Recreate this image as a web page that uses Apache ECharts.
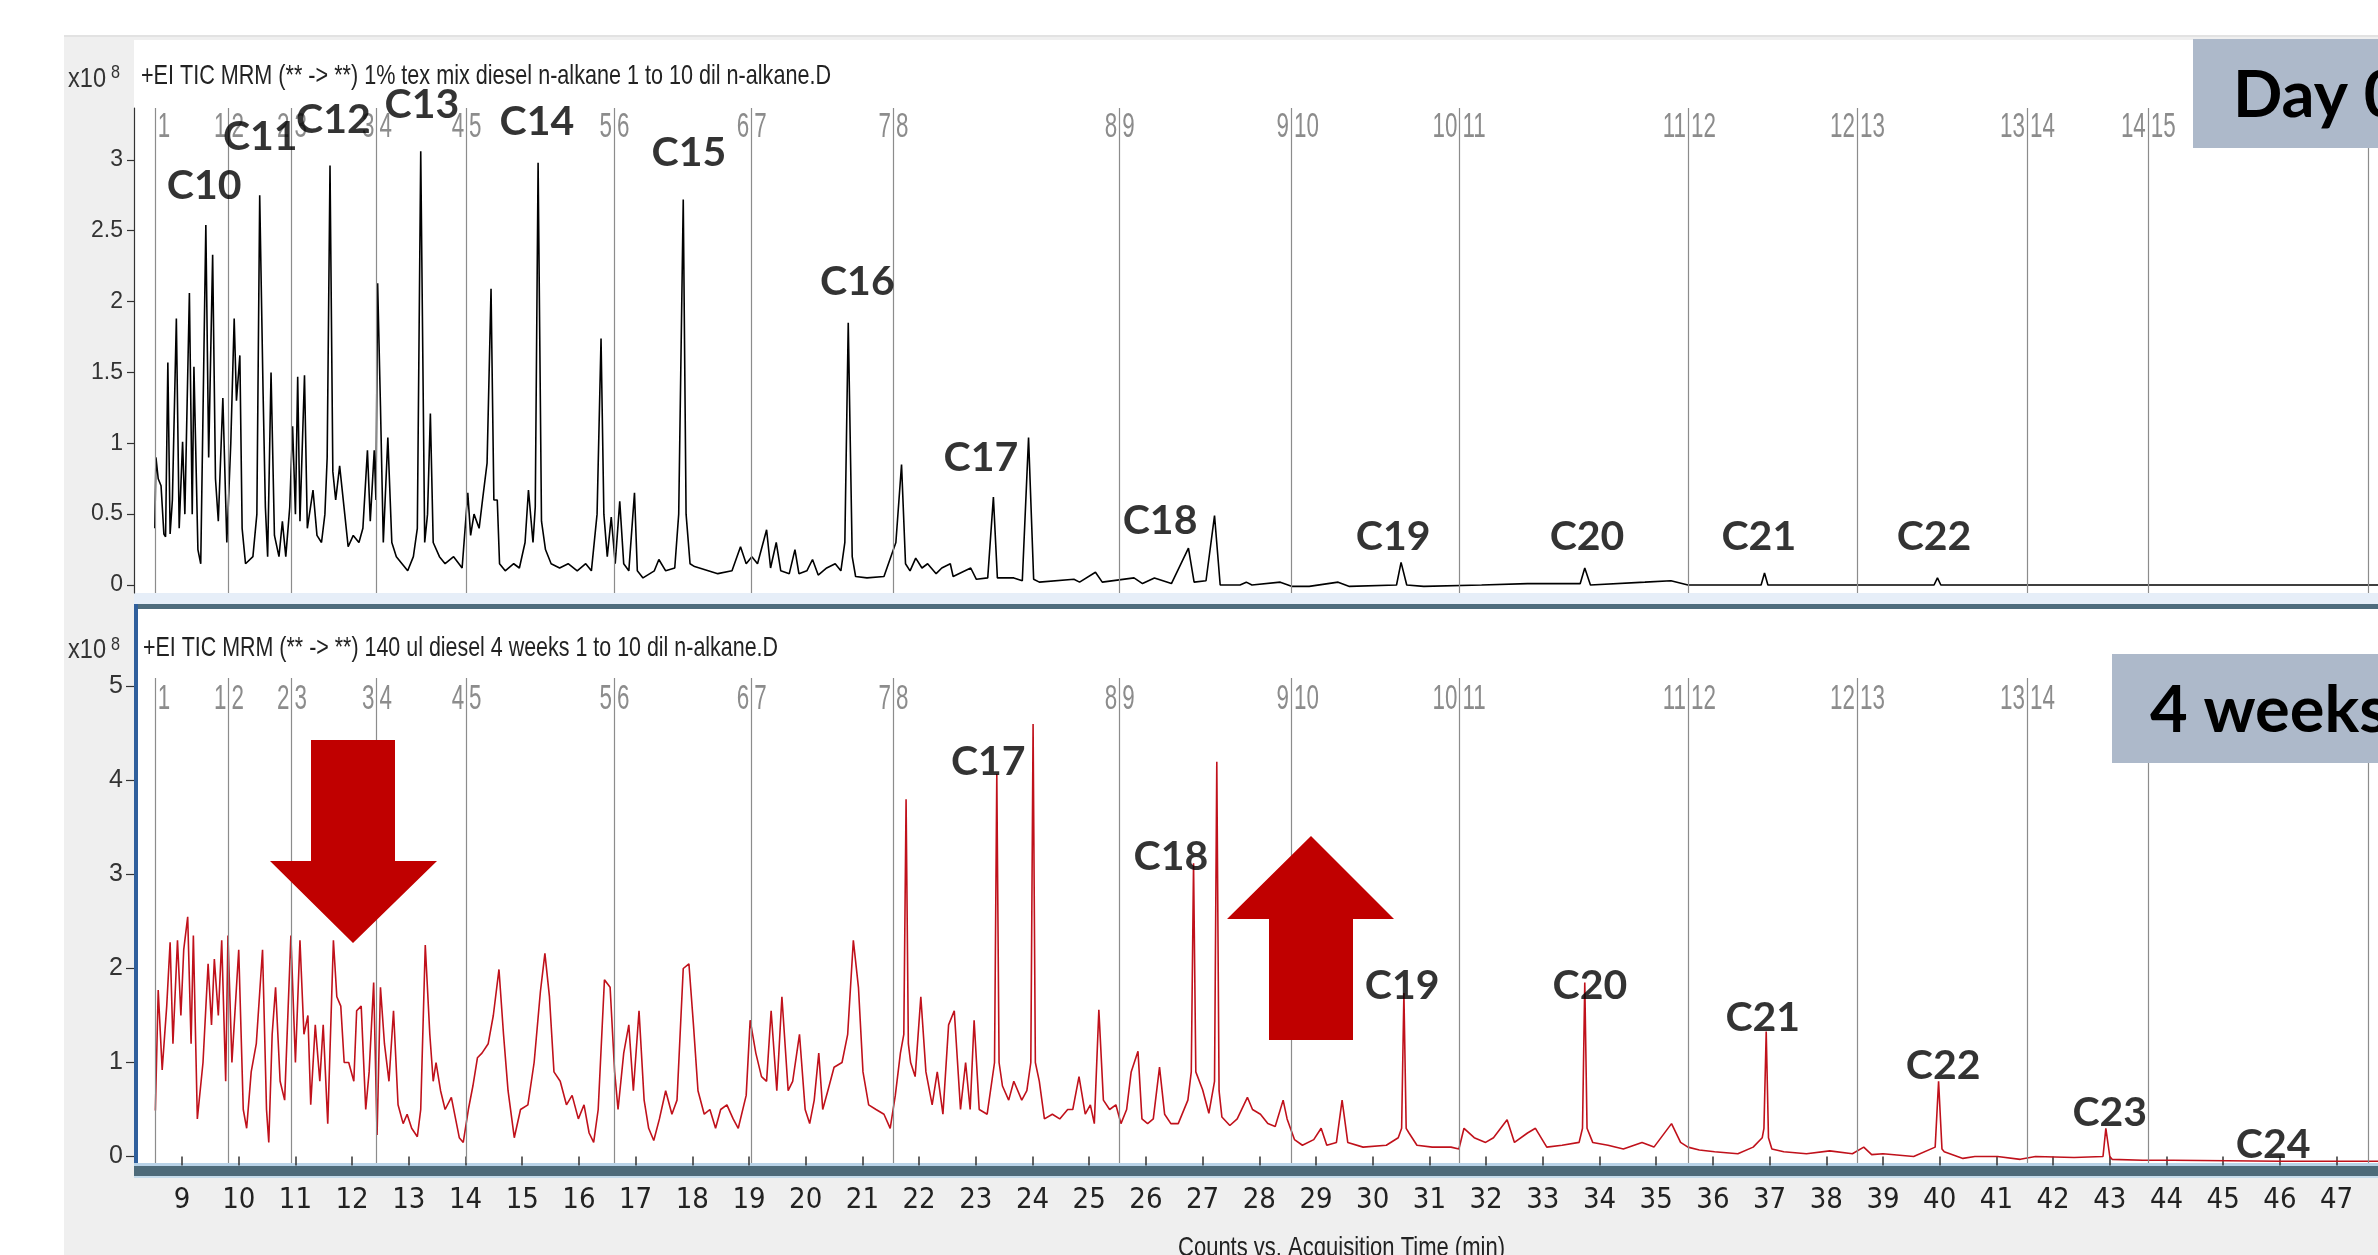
<!DOCTYPE html>
<html><head><meta charset="utf-8">
<script src="https://cdn.jsdelivr.net/npm/echarts@6/dist/echarts.min.js"></script>
<style>html,body{margin:0;padding:0;background:#fff}#c{width:2378px;height:1255px}</style>
</head><body><div id="c"></div><script>
// ---------------- data (time in min, counts x10^8) ----------------
const day0Trace = [[8.52,0.40],[8.54,0.90],[8.58,0.75],[8.63,0.70],[8.68,0.36],[8.71,0.34],[8.75,1.57],[8.79,0.36],[8.83,0.60],[8.90,1.88],[8.95,0.40],[9.01,1.01],[9.05,0.50],[9.13,2.06],[9.18,0.50],[9.21,1.54],[9.28,0.25],[9.33,0.15],[9.42,2.54],[9.47,0.90],[9.54,2.33],[9.59,0.75],[9.64,0.45],[9.72,1.32],[9.79,0.30],[9.86,1.00],[9.92,1.88],[9.96,1.30],[10.02,1.62],[10.06,0.40],[10.12,0.15],[10.25,0.20],[10.32,0.50],[10.37,2.75],[10.43,1.35],[10.47,0.55],[10.51,0.20],[10.57,1.50],[10.63,0.35],[10.71,0.20],[10.77,0.45],[10.83,0.20],[10.90,0.55],[10.95,1.12],[11.00,0.50],[11.04,1.47],[11.08,0.45],[11.16,1.48],[11.21,0.40],[11.31,0.67],[11.38,0.35],[11.46,0.30],[11.52,0.50],[11.56,0.90],[11.61,2.96],[11.66,0.80],[11.71,0.60],[11.78,0.84],[11.87,0.50],[11.93,0.27],[12.02,0.35],[12.12,0.30],[12.19,0.40],[12.27,0.95],[12.32,0.45],[12.39,0.95],[12.42,0.60],[12.45,2.13],[12.50,1.26],[12.55,0.30],[12.63,1.04],[12.70,0.30],[12.78,0.20],[12.88,0.15],[12.98,0.10],[13.08,0.20],[13.15,0.40],[13.21,3.06],[13.28,0.30],[13.33,0.50],[13.38,1.21],[13.43,0.30],[13.54,0.20],[13.64,0.15],[13.79,0.20],[13.94,0.12],[14.04,0.65],[14.09,0.35],[14.15,0.50],[14.24,0.40],[14.30,0.60],[14.38,0.86],[14.45,2.09],[14.50,0.60],[14.56,0.60],[14.60,0.15],[14.70,0.10],[14.85,0.15],[14.95,0.12],[15.05,0.30],[15.11,0.67],[15.19,0.30],[15.23,0.55],[15.28,2.98],[15.34,0.45],[15.41,0.25],[15.51,0.15],[15.66,0.12],[15.81,0.15],[15.97,0.10],[16.12,0.15],[16.22,0.10],[16.32,0.50],[16.39,1.74],[16.44,0.50],[16.50,0.20],[16.57,0.48],[16.64,0.15],[16.72,0.59],[16.79,0.15],[16.88,0.10],[16.98,0.65],[17.03,0.10],[17.13,0.05],[17.33,0.10],[17.41,0.18],[17.53,0.10],[17.69,0.12],[17.76,0.50],[17.84,2.72],[17.89,0.50],[17.96,0.15],[18.04,0.13],[18.45,0.08],[18.70,0.10],[18.85,0.27],[18.95,0.15],[19.05,0.20],[19.15,0.15],[19.31,0.39],[19.38,0.12],[19.48,0.30],[19.56,0.10],[19.71,0.08],[19.81,0.25],[19.88,0.08],[20.02,0.10],[20.12,0.18],[20.22,0.07],[20.37,0.12],[20.52,0.15],[20.62,0.10],[20.69,0.30],[20.75,1.85],[20.82,0.20],[20.88,0.06],[21.08,0.05],[21.38,0.06],[21.59,0.30],[21.69,0.85],[21.76,0.15],[21.84,0.10],[21.94,0.19],[22.05,0.12],[22.15,0.15],[22.30,0.08],[22.40,0.12],[22.55,0.15],[22.60,0.06],[22.91,0.12],[23.01,0.04],[23.21,0.05],[23.31,0.62],[23.38,0.05],[23.67,0.05],[23.82,0.03],[23.93,1.04],[24.02,0.04],[24.12,0.02],[24.73,0.04],[24.83,0.02],[25.11,0.09],[25.23,0.02],[25.79,0.05],[25.94,0.01],[26.15,0.05],[26.45,0.01],[26.75,0.26],[26.85,0.02],[27.06,0.03],[27.21,0.49],[27.31,0.00],[27.66,0.00],[27.77,0.02],[27.87,0.00],[28.37,0.02],[28.58,-0.01],[28.88,-0.01],[29.39,0.02],[29.59,-0.01],[30.42,0.00],[30.50,0.16],[30.60,0.00],[30.90,-0.01],[31.92,0.00],[32.73,0.01],[33.66,0.01],[33.74,0.12],[33.84,0.00],[34.80,0.02],[35.26,0.03],[35.56,0.00],[36.85,0.00],[36.91,0.085],[36.97,0.00],[39.90,0.00],[39.96,0.05],[40.02,0.00],[47.73,0.00]];

const week4Trace = [[8.53,0.49],[8.58,1.77],[8.65,0.92],[8.73,1.60],[8.79,2.28],[8.84,1.20],[8.92,2.30],[8.98,1.50],[9.03,2.20],[9.10,2.55],[9.16,1.20],[9.20,2.35],[9.27,0.40],[9.37,1.00],[9.46,2.05],[9.52,1.40],[9.57,2.10],[9.64,1.50],[9.70,2.30],[9.77,0.80],[9.81,2.35],[9.88,1.00],[10.00,2.20],[10.08,0.50],[10.14,0.30],[10.22,0.90],[10.31,1.20],[10.42,2.20],[10.49,0.50],[10.53,0.15],[10.59,1.30],[10.65,1.80],[10.73,0.80],[10.81,0.60],[10.92,2.35],[11.00,1.00],[11.08,2.30],[11.15,1.30],[11.22,1.50],[11.27,0.55],[11.35,1.40],[11.43,0.80],[11.49,1.40],[11.57,0.35],[11.67,2.30],[11.73,1.70],[11.80,1.60],[11.86,1.00],[11.94,1.00],[12.03,0.80],[12.08,1.55],[12.16,1.60],[12.24,0.50],[12.30,0.90],[12.38,1.85],[12.44,0.23],[12.50,1.80],[12.57,1.20],[12.65,0.80],[12.73,1.55],[12.81,0.55],[12.90,0.35],[12.97,0.45],[13.05,0.30],[13.15,0.21],[13.21,0.50],[13.29,2.25],[13.37,1.30],[13.43,0.80],[13.48,1.00],[13.56,0.70],[13.64,0.50],[13.75,0.63],[13.89,0.20],[13.96,0.15],[14.05,0.50],[14.13,0.75],[14.21,1.05],[14.29,1.10],[14.40,1.20],[14.49,1.50],[14.59,1.99],[14.67,1.30],[14.75,0.70],[14.86,0.20],[14.97,0.50],[15.10,0.55],[15.21,1.00],[15.32,1.75],[15.40,2.16],[15.48,1.70],[15.56,0.90],[15.67,0.80],[15.78,0.55],[15.88,0.65],[15.99,0.40],[16.09,0.55],[16.18,0.25],[16.26,0.15],[16.34,0.50],[16.45,1.88],[16.55,1.80],[16.63,0.90],[16.69,0.50],[16.79,1.10],[16.88,1.40],[16.96,0.70],[17.06,1.55],[17.15,0.60],[17.23,0.30],[17.32,0.17],[17.42,0.40],[17.53,0.70],[17.64,0.45],[17.73,0.60],[17.84,2.00],[17.94,2.05],[18.02,1.40],[18.10,0.70],[18.21,0.45],[18.31,0.50],[18.41,0.30],[18.50,0.50],[18.61,0.55],[18.72,0.40],[18.81,0.30],[18.95,0.65],[19.02,1.45],[19.12,1.10],[19.22,0.85],[19.31,0.80],[19.39,1.55],[19.49,0.70],[19.58,1.70],[19.69,0.70],[19.77,0.80],[19.89,1.30],[19.99,0.50],[20.07,0.35],[20.15,0.60],[20.23,1.10],[20.30,0.50],[20.39,0.70],[20.50,0.95],[20.64,1.00],[20.74,1.30],[20.84,2.30],[20.93,1.80],[21.01,0.90],[21.11,0.55],[21.24,0.50],[21.38,0.45],[21.49,0.30],[21.58,0.65],[21.67,1.10],[21.73,1.30],[21.77,3.80],[21.81,1.20],[21.85,1.00],[21.93,0.85],[22.03,1.70],[22.12,0.90],[22.23,0.55],[22.32,0.90],[22.42,0.45],[22.52,1.40],[22.62,1.55],[22.73,0.50],[22.82,1.00],[22.90,0.50],[22.97,1.45],[23.06,0.50],[23.20,0.45],[23.33,1.00],[23.37,4.07],[23.41,1.00],[23.47,0.75],[23.58,0.60],[23.67,0.80],[23.81,0.60],[23.90,0.70],[23.97,1.00],[24.01,4.60],[24.05,1.00],[24.12,0.80],[24.21,0.40],[24.35,0.45],[24.48,0.40],[24.62,0.50],[24.71,0.50],[24.82,0.85],[24.93,0.45],[25.02,0.55],[25.09,0.35],[25.17,1.56],[25.25,0.60],[25.36,0.50],[25.47,0.55],[25.56,0.35],[25.66,0.50],[25.74,0.90],[25.86,1.12],[25.93,0.40],[26.03,0.35],[26.13,0.40],[26.24,0.95],[26.33,0.45],[26.44,0.35],[26.57,0.35],[26.74,0.60],[26.80,0.90],[26.84,3.12],[26.88,0.90],[27.00,0.71],[27.11,0.46],[27.21,0.80],[27.25,4.20],[27.29,0.70],[27.34,0.42],[27.48,0.33],[27.61,0.40],[27.79,0.63],[27.88,0.50],[28.02,0.45],[28.15,0.35],[28.28,0.32],[28.42,0.60],[28.49,0.40],[28.62,0.18],[28.76,0.12],[28.96,0.18],[29.09,0.30],[29.19,0.12],[29.36,0.15],[29.46,0.60],[29.56,0.15],[29.83,0.10],[30.24,0.12],[30.45,0.20],[30.51,0.30],[30.55,1.74],[30.59,0.30],[30.64,0.25],[30.78,0.12],[31.05,0.10],[31.38,0.10],[31.52,0.08],[31.61,0.30],[31.79,0.20],[31.99,0.15],[32.13,0.20],[32.37,0.39],[32.50,0.15],[32.73,0.25],[32.87,0.30],[33.07,0.10],[33.34,0.12],[33.64,0.15],[33.70,0.30],[33.74,1.85],[33.78,0.30],[33.88,0.15],[34.15,0.12],[34.42,0.08],[34.75,0.15],[34.96,0.10],[35.27,0.35],[35.43,0.15],[35.56,0.10],[35.76,0.07],[36.03,0.05],[36.44,0.03],[36.71,0.10],[36.87,0.20],[36.90,0.30],[36.94,1.33],[36.98,0.20],[37.04,0.08],[37.25,0.05],[37.65,0.03],[38.06,0.06],[38.46,0.03],[38.66,0.10],[38.80,0.02],[39.00,0.03],[39.54,0.00],[39.92,0.10],[39.98,0.80],[40.04,0.08],[40.08,0.05],[40.41,-0.02],[40.62,0.00],[41.02,0.00],[41.42,-0.03],[41.69,0.00],[42.37,-0.01],[42.88,0.00],[42.93,0.30],[43.00,0.00],[43.04,-0.03],[43.58,-0.04],[44.12,-0.04],[46.01,-0.05],[47.73,-0.05]];

const timeTicks = [9,10,11,12,13,14,15,16,17,18,19,20,21,22,23,24,25,26,27,28,29,30,31,32,33,34,35,36,37,38,39,40,41,42,43,44,45,46,47];
const day0CountTicks = [0,0.5,1,1.5,2,2.5,3];
const week4CountTicks = [0,1,2,3,4,5];

const segmentTimes = [8.52,9.82,10.93,12.43,14.01,16.62,19.04,21.54,25.53,28.56,31.53,35.56,38.54,41.54,43.67,47.55];
const segmentLeftNames = ['','1','2','3','4','5','6','7','8','9','10','11','12','13','14','15'];
const segmentRightNames = ['1','2','3','4','5','6','7','8','9','10','11','12','13','14','15','16'];

const day0PeakNames = ['C10','C11','C12','C13','C14','C15','C16','C17','C18','C19','C20','C21','C22'];
const day0PeakLabelTimes = [9.39,10.38,11.67,13.23,15.26,17.94,20.91,23.09,26.25,30.36,33.78,36.81,39.90];
const day0PeakLabelLevels = [2.82,3.16,3.28,3.39,3.27,3.05,2.14,0.90,0.45,0.34,0.34,0.34,0.34];

const week4PeakNames = ['C17','C18','C19','C20','C21','C22','C23','C24','C25'];
const week4PeakLabelTimes = [23.22,26.44,30.52,33.83,36.88,40.06,43.00,45.88,48.41];
const week4PeakLabelLevels = [4.20,3.19,1.82,1.82,1.48,0.97,0.46,0.12,0.12];

const day0Title = '+EI TIC MRM (** -> **) 1% tex mix diesel n-alkane 1 to 10 dil n-alkane.D';
const week4Title = '+EI TIC MRM (** -> **) 140 ul diesel 4 weeks 1 to 10 dil n-alkane.D';
const xAxisTitle = 'Counts vs. Acquisition Time (min)';

// ---------------- chart ----------------
const NARROW = "'Liberation Sans Narrow','Arial Narrow','DejaVu Sans Condensed','Liberation Sans',sans-serif";
const ARIAL = "'Liberation Sans',Arial,sans-serif";
const BOLD = "Lato,'Open Sans',sans-serif";
const chart = echarts.init(document.getElementById('c'), null, {renderer:'canvas'});

const measureCtx = document.createElement('canvas').getContext('2d');
function fitScale(text, font, targetWidth){
  measureCtx.font = font;
  const w = measureCtx.measureText(text).width;
  return w > 0 ? targetWidth / w : 1;
}
function squeezedText(text, x, y, fontPx, targetWidth, color){
  const font = fontPx + 'px ' + ARIAL;
  return {type:'text', z:10, x:x, y:y, scaleX:fitScale(text, font, targetWidth),
    style:{x:0, y:0, text:text, font:font, fill:color, verticalAlign:'middle'}};
}

const T0 = 8.153, T1 = 47.73;
const segLevelTop = 3.229, segLevelBottom = 4.862;
const SEG_FONT = '35px ' + ARIAL;

function segLabelSeries(xi, yi, level){
  return {
    type:'custom', xAxisIndex:xi, yAxisIndex:yi, silent:true, z:5, clip:false,
    data: segmentTimes.map((t,i)=>[t, level, i]),
    renderItem: function(params, api){
      const p = api.coord([api.value(0), api.value(1)]);
      const i = api.value(2);
      return {type:'group', children:[
        {type:'text', x:p[0]-2, y:p[1], scaleX:0.64,
          style:{text:segmentLeftNames[i], font:SEG_FONT, fill:'#8c8c8c', align:'right', verticalAlign:'middle'}},
        {type:'text', x:p[0]+3, y:p[1], scaleX:0.64,
          style:{text:segmentRightNames[i], font:SEG_FONT, fill:'#8c8c8c', align:'left', verticalAlign:'middle'}}
      ]};
    }
  };
}
function peakLabelSeries(xi, yi, names, times, levels){
  return {
    type:'scatter', xAxisIndex:xi, yAxisIndex:yi, symbolSize:0, clip:false, silent:true, z:20,
    data: names.map((n,i)=>({value:[times[i],levels[i]], name:n})),
    label:{show:true, position:'inside', formatter:'{b}', fontFamily:BOLD, fontWeight:'bold', fontSize:41, color:'#000'}
  };
}
const segMark = {
  symbol:'none', silent:true, label:{show:false},
  lineStyle:{color:'#8c8c8c', width:1.2, type:'solid'},
  data: segmentTimes.map(t=>({xAxis:t}))
};

const option = {
  animation:false,
  backgroundColor:'#ffffff',
  grid:[
    {left:134, right:0, top:108, height:485},
    {left:134, right:0, top:678, height:485}
  ],
  xAxis:[
    {type:'value', gridIndex:0, min:T0, max:T1, show:false, splitLine:{show:false}},
    {type:'value', gridIndex:1, min:T0, max:T1, offset:14,
      axisLine:{show:false}, splitLine:{show:false},
      axisTick:{show:true, length:9, customValues:timeTicks, lineStyle:{color:'#333', width:1.5}},
      axisLabel:{show:true, customValues:timeTicks, margin:9, fontFamily:NARROW, fontSize:29, color:'#222'}}
  ],
  yAxis:[
    {type:'value', gridIndex:0, min:-0.0565, max:3.366, splitLine:{show:false},
      axisLine:{show:true, lineStyle:{color:'#333', width:1.2}},
      axisTick:{show:true, length:7, customValues:day0CountTicks, lineStyle:{color:'#333', width:1.2}},
      axisLabel:{show:true, customValues:day0CountTicks, margin:11, fontFamily:ARIAL, fontSize:23, color:'#333'}},
    {type:'value', gridIndex:1, min:-0.069, max:5.09, splitLine:{show:false},
      axisLine:{show:false},
      axisTick:{show:true, length:8, customValues:week4CountTicks, lineStyle:{color:'#333', width:1.2}},
      axisLabel:{show:true, customValues:week4CountTicks, margin:11, fontFamily:ARIAL, fontSize:25, color:'#333'}}
  ],
  series:[
    {type:'line', name:'Day 0', xAxisIndex:0, yAxisIndex:0, data:day0Trace, symbol:'none', z:3,
      lineStyle:{color:'#000', width:1.6}, markLine:segMark},
    {type:'line', name:'4 weeks', xAxisIndex:1, yAxisIndex:1, data:week4Trace, symbol:'none', z:3,
      lineStyle:{color:'#c0111b', width:1.6}, markLine:segMark},
    segLabelSeries(0,0,segLevelTop),
    segLabelSeries(1,1,segLevelBottom),
    peakLabelSeries(0,0,day0PeakNames,day0PeakLabelTimes,day0PeakLabelLevels),
    peakLabelSeries(1,1,week4PeakNames,week4PeakLabelTimes,week4PeakLabelLevels)
  ],
  graphic:[
    // window background and panes
    {type:'rect', z:-20, shape:{x:64,y:35,width:2314,height:1220}, style:{fill:'#efefef'}},
    {type:'rect', z:-19, shape:{x:64,y:35,width:2314,height:2}, style:{fill:'#e2e2e2'}},
    {type:'rect', z:-18, shape:{x:134,y:40,width:2244,height:553}, style:{fill:'#ffffff'}},
    {type:'rect', z:-18, shape:{x:134,y:593,width:2244,height:11}, style:{fill:'#e6eef8'}},
    {type:'rect', z:-17, shape:{x:134,y:604,width:2244,height:5}, style:{fill:'#4e6c7d'}},
    {type:'rect', z:-18, shape:{x:138,y:609,width:2240,height:556}, style:{fill:'#ffffff'}},
    {type:'rect', z:-17, shape:{x:134,y:604,width:4,height:573}, style:{fill:'#2f5f9c'}},
    {type:'rect', z:-17, shape:{x:134,y:1163,width:2244,height:3}, style:{fill:'#b9d3e8'}},
    {type:'rect', z:-16, shape:{x:134,y:1166,width:2244,height:10}, style:{fill:'#4e6b7a'}},
    {type:'rect', z:-17, shape:{x:134,y:1176,width:2244,height:2}, style:{fill:'#c6dcec'}},
    // pane titles and scale factors
    squeezedText('x10', 68, 79, 28, 38, '#333'),
    squeezedText('8', 111, 73, 18, 9, '#333'),
    squeezedText(day0Title, 141, 76, 28, 690, '#222'),
    squeezedText('x10', 68, 650, 28, 38, '#333'),
    squeezedText('8', 111, 645, 18, 9, '#333'),
    squeezedText(week4Title, 143, 648, 28, 635, '#222'),
    squeezedText(xAxisTitle, 1178, 1248, 28, 327, '#222'),
    // sample tags
    {type:'rect', z:50, shape:{x:2193,y:39,width:200,height:109}, style:{fill:'#adb9ca'}},
    {type:'text', z:51, style:{x:2233,y:96,text:'Day 0',font:'bold 65px '+BOLD,fill:'#000',verticalAlign:'middle'}},
    {type:'rect', z:50, shape:{x:2112,y:654,width:280,height:109}, style:{fill:'#adb9ca'}},
    {type:'text', z:51, style:{x:2150,y:711,text:'4 weeks',font:'bold 65px '+BOLD,fill:'#000',verticalAlign:'middle'}},
    // arrows
    {type:'polygon', z:40, shape:{points:[[311,740],[395,740],[395,861],[437,861],[353,943],[270,861],[311,861]]}, style:{fill:'#c00000'}},
    {type:'polygon', z:40, shape:{points:[[1311,836],[1394,919],[1353,919],[1353,1040],[1269,1040],[1269,919],[1227,919]]}, style:{fill:'#c00000'}}
  ]
};
chart.setOption(option);
</script></body></html>
